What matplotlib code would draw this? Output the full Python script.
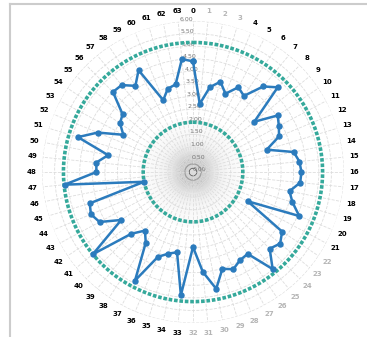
import numpy as np
import matplotlib
matplotlib.use("Agg")
import matplotlib.pyplot as plt
from matplotlib.lines import Line2D

# category index 0..63, clockwise from the top
categories = [str(i) for i in range(64)]
values = [4.40, 2.72, 3.44, 3.75, 3.37, 3.82, 3.64, 4.40,
          4.76, 3.15, 4.05, 3.87, 3.70, 3.06, 4.08, 4.25,
          4.31, 4.28, 3.91, 4.13, 4.57, 2.46, 4.26, 4.48,
          4.31, 4.99, 3.91, 3.97, 4.18, 4.02, 4.73, 3.99,
          2.98, 4.92, 3.25, 3.39, 3.65, 4.89, 3.38, 3.01,
          3.47, 5.15, 3.43, 4.21, 4.39, 4.29, 1.98, 5.13,
          3.84, 3.86, 3.44, 4.78, 4.10, 3.14, 3.49, 3.62,
          4.50, 4.47, 4.12, 4.59, 3.09, 3.46, 3.55, 4.51]
r_ticks = [0.0, 0.5, 1.0, 1.5, 2.0, 2.5, 3.0, 3.5, 4.0, 4.5, 5.0, 5.5, 6.0]
faded = ['1', '2', '3'] + [str(i) for i in range(22, 33)]

n = len(values)
theta = np.arange(n) * 2 * np.pi / n

fig = plt.figure(figsize=(3.67, 3.37), dpi=100)
ax = fig.add_axes([0.1144, 0.0415, 0.823, 0.896], projection='polar')
ax.set_theta_zero_location('N')
ax.set_theta_direction(-1)
ax.set_ylim(0, 6)

# soft grey shadow in the middle
tt, rr = np.meshgrid(np.linspace(0, 2 * np.pi, 90), np.linspace(0, 2.2, 50))
shade = np.exp(-rr / 0.6)
ax.pcolormesh(tt, rr, shade[:-1, :-1], cmap='Greys', vmin=0, vmax=1.25,
              shading='flat', zorder=0, alpha=0.85)

# max / min circles
full = np.linspace(0, 2 * np.pi, 400)
teal = '#35a99b'
ax.plot(full, [max(values)] * len(full), color=teal, lw=2.6,
        linestyle=(0, (1.0, 0.5)), zorder=3)
ax.plot(full, [min(values)] * len(full), color=teal, lw=2.6,
        linestyle=(0, (1.0, 0.5)), zorder=3)

# main series
th = np.append(theta, theta[0])
vv = values + [values[0]]
ax.plot(th, vv, color='#2b7bbd', lw=1.8, marker='o', ms=3.6, zorder=4)

ax.set_xticks(theta)
ax.set_xticklabels(categories, fontsize=5, fontweight='bold')
for lab in ax.get_xticklabels():
    if lab.get_text() in faded:
        lab.set_color('#b5b5b5')
ax.tick_params(axis='x', pad=-3)
ax.set_yticks(r_ticks)
ax.set_yticklabels(['%.2f' % v for v in r_ticks], fontsize=4.5, color='#777777')
ax.set_rlabel_position(355)
ax.grid(True, color='#dddddd', linestyle='--', linewidth=0.6)
ax.spines['polar'].set_visible(False)

# frame of the original panel
fig.add_artist(Line2D([0.027, 1.0], [0.988, 0.988], transform=fig.transFigure,
                      color='#cccccc', lw=1.5))
fig.add_artist(Line2D([0.027, 0.027], [0.0, 0.988], transform=fig.transFigure,
                      color='#cccccc', lw=1.5))

plt.savefig('out.png', dpi=100)
